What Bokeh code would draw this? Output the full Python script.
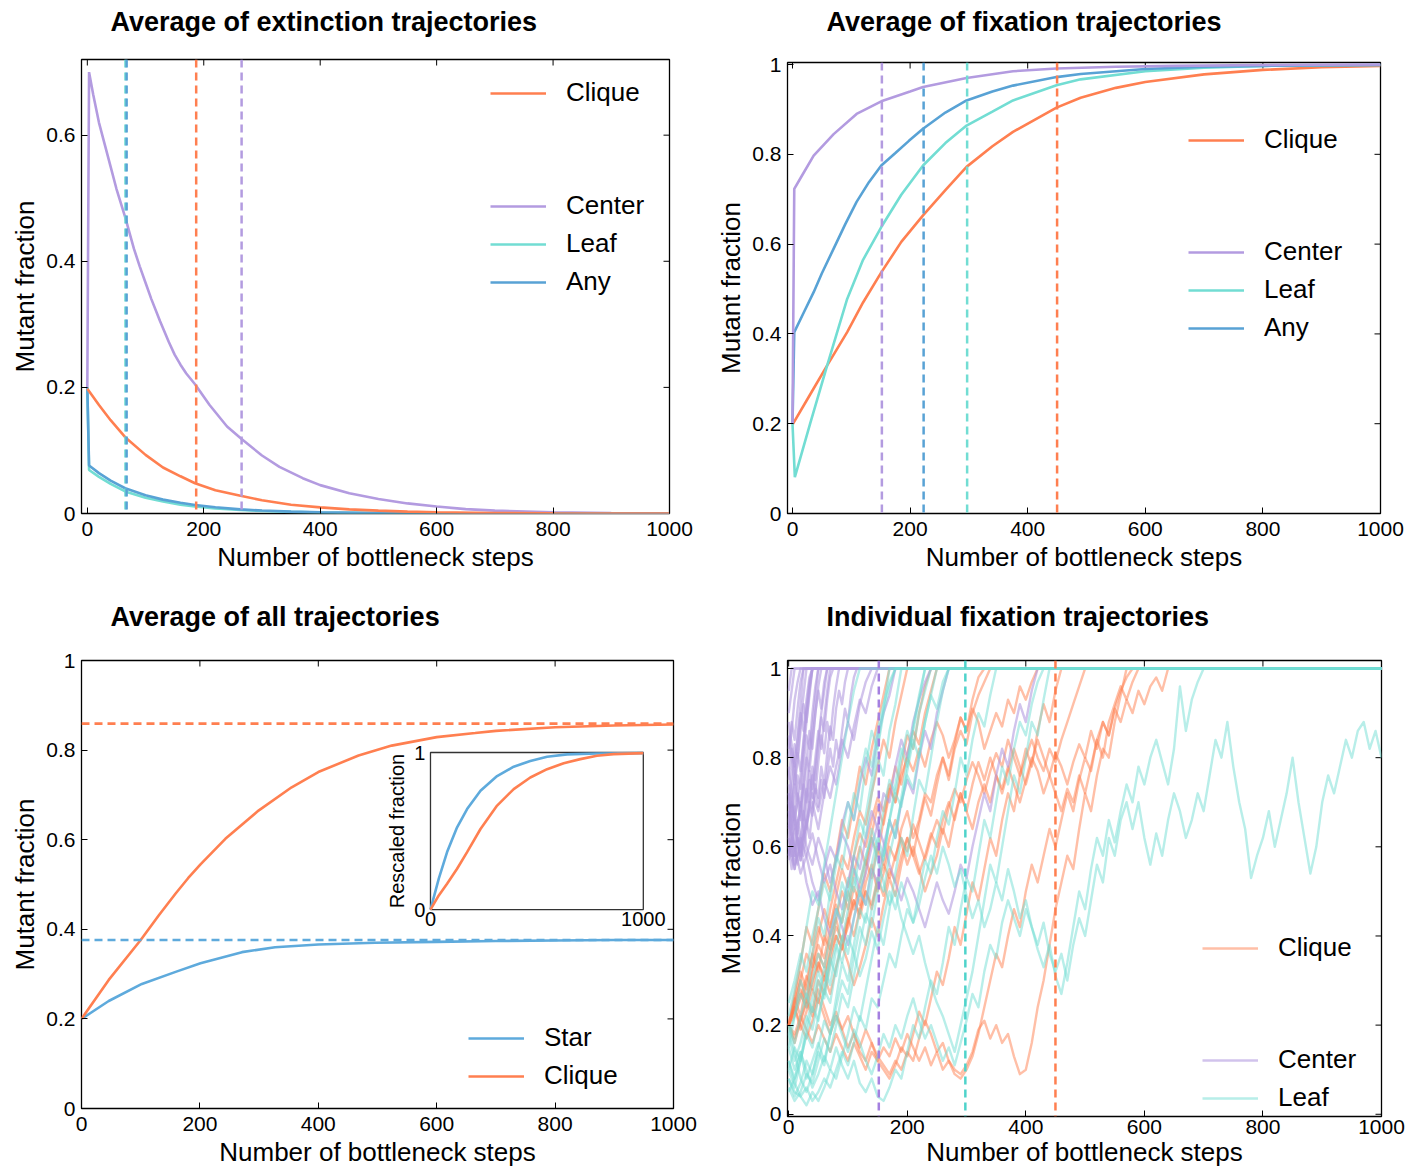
import math
from bokeh.plotting import figure
from bokeh.models import Range1d, FixedTicker, Span, Legend, LegendItem
from bokeh.layouts import column, row
from bokeh.embed import file_html
from bokeh.resources import INLINE
from bokeh.core.properties import value

FONT = "Liberation Sans"
ORANGE = "#FF7F50"
PURPLE = "#B39BE0"
CYAN = "#72DDD3"
BLUE = "#58A2D5"
STAR = "#5EAADC"

X_LABEL = "Number of bottleneck steps"
Y_LABEL = "Mutant fraction"
X_TICKS = [0, 200, 400, 600, 800, 1000]

# ---------------- Panel 1: average of extinction trajectories ----------------
EXT_TITLE = "Average of extinction trajectories"
EXT_Y_TICKS = [0, 0.2, 0.4, 0.6]
EXT_CLIQUE_X = [0, 20, 40, 65, 100, 130, 160, 185, 220, 263, 300, 350, 400, 450, 500, 550, 600, 700, 800, 1000]
EXT_CLIQUE_Y = [0.198, 0.172, 0.148, 0.121, 0.093, 0.073, 0.059, 0.048, 0.037, 0.028, 0.021, 0.014, 0.0097,
                0.0066, 0.0045, 0.003, 0.002, 0.0009, 0.0004, 0.0001]
EXT_CENTER_X = [0, 3, 10, 20, 30, 40, 50, 65, 80, 90, 100, 110, 125, 140, 150, 160, 170, 185, 210, 240, 265, 300,
                330, 370, 400, 450, 500, 550, 600, 650, 700, 800, 900, 1000]
EXT_CENTER_Y = [0.20, 0.70, 0.665, 0.62, 0.585, 0.55, 0.515, 0.47, 0.42, 0.392, 0.366, 0.34, 0.305, 0.272, 0.252,
                0.236, 0.222, 0.205, 0.172, 0.138, 0.118, 0.092, 0.074, 0.056, 0.045, 0.032, 0.023, 0.016, 0.011,
                0.007, 0.0045, 0.002, 0.0008, 0.0003]
EXT_X = [0, 3, 20, 40, 65, 100, 130, 160, 185, 220, 263, 300, 350, 400, 500, 600, 800, 1000]
EXT_LEAF_Y = [0.20, 0.069, 0.058, 0.047, 0.035, 0.025, 0.019, 0.014, 0.011, 0.008, 0.0055, 0.004, 0.0025,
              0.0016, 0.0006, 0.0002, 0.00004, 0.0]
EXT_ANY_Y = [0.20, 0.076, 0.064, 0.052, 0.040, 0.029, 0.022, 0.017, 0.0135, 0.0098, 0.0066, 0.0047, 0.003,
             0.0019, 0.0007, 0.0003, 0.00005, 0.0]
EXT_MEAN_NAMES = ["Leaf", "Any", "Clique", "Center"]
EXT_MEAN_STEPS = [65.5, 67.5, 187, 265]

# ---------------- Panel 2: average of fixation trajectories ----------------
FIX_TITLE = "Average of fixation trajectories"
FIX_Y_TICKS = [0, 0.2, 0.4, 0.6, 0.8, 1]
FIX_CENTER_X = [0, 3, 15, 36, 70, 109, 151, 200, 222, 296, 375, 449, 550, 650, 800, 1000]
FIX_CENTER_Y = [0.20, 0.723, 0.75, 0.797, 0.845, 0.89, 0.918, 0.940, 0.950, 0.970, 0.985, 0.991, 0.995, 0.997,
                0.999, 1.0]
FIX_ANY_X = [0, 3, 20, 36, 50, 70, 90, 109, 130, 151, 175, 198, 222, 260, 296, 340, 375, 449, 490, 600, 700, 800,
             1000]
FIX_ANY_Y = [0.20, 0.404, 0.45, 0.493, 0.535, 0.59, 0.645, 0.694, 0.738, 0.775, 0.803, 0.83, 0.857, 0.893, 0.92,
             0.94, 0.953, 0.972, 0.979, 0.99, 0.995, 0.997, 0.999]
FIX_LEAF_X = [0, 4, 30, 59, 93, 120, 151, 185, 222, 260, 296, 340, 375, 449, 490, 600, 700, 800, 1000]
FIX_LEAF_Y = [0.20, 0.081, 0.20, 0.33, 0.478, 0.565, 0.638, 0.71, 0.775, 0.825, 0.864, 0.895, 0.92, 0.954, 0.967,
              0.985, 0.993, 0.997, 0.999]
FIX_CLIQUE_X = [0, 30, 59, 93, 120, 151, 185, 222, 260, 296, 340, 375, 449, 490, 550, 600, 700, 800, 900, 1000]
FIX_CLIQUE_Y = [0.198, 0.265, 0.33, 0.404, 0.47, 0.537, 0.605, 0.664, 0.72, 0.772, 0.818, 0.85, 0.904, 0.926,
                0.948, 0.961, 0.978, 0.988, 0.994, 0.997]
FIX_MEAN_NAMES = ["Center", "Any", "Leaf", "Clique"]
FIX_MEAN_STEPS = [152, 223, 297, 450]

# ---------------- Panel 3: average of all trajectories ----------------
ALL_TITLE = "Average of all trajectories"
ALL_Y_TICKS = [0, 0.2, 0.4, 0.6, 0.8, 1]
ALL_STAR_X = [0, 46, 102, 159, 201, 271, 327, 400, 496, 600, 700, 800, 900, 1000]
ALL_STAR_Y = [0.20, 0.240, 0.278, 0.305, 0.324, 0.349, 0.360, 0.366, 0.370, 0.372, 0.374, 0.375, 0.376, 0.376]
ALL_CLIQUE_X = [0, 46, 100, 131, 159, 180, 201, 243, 299, 355, 400, 468, 524, 600, 665, 700, 800, 900, 1000]
ALL_CLIQUE_Y = [0.20, 0.287, 0.376, 0.432, 0.480, 0.514, 0.545, 0.602, 0.665, 0.717, 0.751, 0.788, 0.810, 0.829,
                0.838, 0.843, 0.851, 0.855, 0.857]
ALL_LIMIT_NAMES = ["Clique", "Star"]
ALL_LIMIT_VALUES = [0.859, 0.376]

INSET_LABEL = "Rescaled fraction"
INSET_X_RANGE = [0, 1000]
INSET_Y_RANGE = [0, 1]
INSET_STAR_X = [0, 39, 78, 125, 172, 235, 313, 391, 469, 548, 642, 783, 1000]
INSET_STAR_Y = [0, 0.197, 0.366, 0.524, 0.64, 0.756, 0.85, 0.91, 0.946, 0.973, 0.988, 0.994, 0.996]
INSET_CLIQUE_X = [0, 39, 78, 125, 172, 235, 313, 391, 469, 548, 626, 704, 782, 860, 1000]
INSET_CLIQUE_Y = [0, 0.09, 0.164, 0.26, 0.366, 0.513, 0.662, 0.767, 0.841, 0.894, 0.932, 0.958, 0.979, 0.99, 0.996]

# ---------------- Panel 4: individual fixation trajectories ----------------
IND_TITLE = "Individual fixation trajectories"
IND_END = 1000
CENTER_FAST_STEP = 5
CENTER_FAST = [
    [0.80, 0.86, 0.93, 0.97, 1.0],
    [0.70, 0.76, 0.83, 0.80, 0.88, 0.94, 1.0],
    [0.62, 0.58, 0.66, 0.72, 0.69, 0.78, 0.85, 0.82, 0.90, 0.96, 1.0],
    [0.85, 0.80, 0.74, 0.79, 0.86, 0.92, 0.88, 0.95, 1.0],
    [0.66, 0.60, 0.55, 0.62, 0.58, 0.67, 0.73, 0.70, 0.78, 0.75, 0.83, 0.89, 0.86, 0.93, 0.98, 1.0],
    [0.75, 0.82, 0.78, 0.72, 0.68, 0.74, 0.80, 0.77, 0.84, 0.90, 0.95, 0.91, 0.97, 1.0],
    [0.90, 0.95, 1.0],
    [0.58, 0.64, 0.70, 0.76, 0.73, 0.81, 0.88, 0.94, 1.0],
    [0.72, 0.65, 0.60, 0.56, 0.62, 0.68, 0.64, 0.70, 0.76, 0.72, 0.79, 0.85, 0.81, 0.88, 0.84, 0.91, 0.96, 1.0],
    [0.64, 0.70, 0.66, 0.61, 0.57, 0.63, 0.69, 0.75, 0.71, 0.78, 0.84, 0.90, 0.95, 1.0],
    [0.88, 0.83, 0.78, 0.84, 0.90, 0.86, 0.93, 0.98, 1.0],
    [0.60, 0.55, 0.60, 0.66, 0.62, 0.58, 0.64, 0.70, 0.67, 0.74, 0.71, 0.78, 0.74, 0.81, 0.87, 0.84, 0.91, 0.95,
     0.92, 0.97, 1.0],
    [0.68, 0.63, 0.58, 0.62, 0.57, 0.61, 0.66, 0.62, 0.68, 0.73, 0.69, 0.75, 0.71, 0.77, 0.82, 0.78, 0.84, 0.80,
     0.86, 0.91, 0.88, 0.94, 0.98, 1.0],
    [0.95, 1.0],
    [0.78, 0.72, 0.66, 0.70, 0.76, 0.83, 0.90, 0.96, 1.0],
    [0.66, 0.72, 0.78, 0.85, 0.92, 1.0],
    [0.57, 0.62, 0.58, 0.64, 0.70, 0.66, 0.73, 0.80, 0.87, 0.94, 1.0],
    [0.82, 0.88, 0.84, 0.91, 0.97, 1.0],
    [0.70, 0.64, 0.69, 0.63, 0.68, 0.74, 0.70, 0.77, 0.73, 0.80, 0.86, 0.82, 0.89, 0.95, 1.0],
    [0.62, 0.68, 0.74, 0.70, 0.66, 0.72, 0.79, 0.86, 0.82, 0.90, 0.96, 1.0],
    [0.74, 0.69, 0.75, 0.81, 0.77, 0.84, 0.91, 0.97, 1.0],
]
CENTER_SLOW_STEP = 10
CENTER_SLOW = [
    [0.60, 0.55, 0.62, 0.58, 0.52, 0.48, 0.55, 0.60, 0.57, 0.65, 0.70, 0.66, 0.74, 0.80, 0.76, 0.85, 0.90, 0.94, 1.0],
    [0.62, 0.56, 0.60, 0.52, 0.47, 0.50, 0.44, 0.40, 0.46, 0.42, 0.38, 0.44, 0.50, 0.47, 0.55, 0.52, 0.60, 0.66,
     0.62, 0.70, 0.75, 0.72, 0.80, 0.86, 0.82, 0.90, 0.95, 1.0],
    [0.70, 0.64, 0.68, 0.60, 0.56, 0.62, 0.58, 0.52, 0.57, 0.63, 0.60, 0.55, 0.50, 0.54, 0.60, 0.65, 0.61, 0.56,
     0.52, 0.48, 0.53, 0.50, 0.46, 0.42, 0.47, 0.52, 0.48, 0.45, 0.50, 0.56, 0.53, 0.60, 0.66, 0.72, 0.68, 0.76,
     0.82, 0.78, 0.86, 0.92, 0.88, 0.95, 1.0],
    [0.72, 0.66, 0.60, 0.65, 0.70, 0.64, 0.72, 0.78, 0.74, 0.82, 0.88, 0.84, 0.92, 0.97, 1.0],
    [0.65, 0.60, 0.54, 0.58, 0.63, 0.57, 0.52, 0.56, 0.50, 0.46, 0.52, 0.58, 0.55, 0.62, 0.68, 0.64, 0.72, 0.70,
     0.78, 0.84, 0.80, 0.88, 0.93, 0.97, 1.0],
    [0.58, 0.64, 0.59, 0.66, 0.72, 0.68, 0.75, 0.71, 0.78, 0.84, 0.80, 0.87, 0.93, 0.90, 0.96, 1.0],
]
LEAF_STEP = 10
LEAF_TRAJ = [
    [0.10, 0.06, 0.12, 0.18, 0.15, 0.22, 0.28, 0.25, 0.33, 0.40, 0.36, 0.44, 0.50, 0.47, 0.56, 0.62, 0.58, 0.66,
     0.72, 0.69, 0.77, 0.84, 0.80, 0.88, 0.94, 0.91, 0.97, 1.0],
    [0.20, 0.14, 0.08, 0.05, 0.09, 0.14, 0.11, 0.18, 0.24, 0.30, 0.27, 0.35, 0.42, 0.38, 0.46, 0.53, 0.50, 0.58,
     0.64, 0.70, 0.76, 0.73, 0.81, 0.88, 0.94, 1.0],
    [0.15, 0.22, 0.30, 0.26, 0.36, 0.44, 0.40, 0.50, 0.58, 0.55, 0.64, 0.72, 0.68, 0.78, 0.86, 0.82, 0.90, 0.96, 1.0],
    [0.08, 0.05, 0.04, 0.06, 0.03, 0.05, 0.08, 0.06, 0.10, 0.14, 0.11, 0.16, 0.22, 0.19, 0.26, 0.24, 0.30, 0.36,
     0.33, 0.40, 0.46, 0.43, 0.50, 0.57, 0.54, 0.62, 0.68, 0.65, 0.72, 0.80, 0.76, 0.84, 0.90, 0.87, 0.94, 1.0],
    [0.12, 0.08, 0.14, 0.10, 0.06, 0.09, 0.13, 0.10, 0.15, 0.11, 0.08, 0.12, 0.07, 0.05, 0.08, 0.04, 0.03, 0.06,
     0.10, 0.08, 0.14, 0.20, 0.17, 0.24, 0.30, 0.27, 0.34, 0.42, 0.38, 0.46, 0.53, 0.50, 0.58, 0.66, 0.62, 0.70,
     0.78, 0.74, 0.82, 0.88, 0.85, 0.92, 0.97, 1.0],
    [0.15, 0.10, 0.14, 0.08, 0.12, 0.16, 0.12, 0.18, 0.22, 0.18, 0.14, 0.19, 0.16, 0.12, 0.09, 0.13, 0.18, 0.15,
     0.20, 0.17, 0.22, 0.26, 0.21, 0.17, 0.20, 0.16, 0.12, 0.15, 0.11, 0.16, 0.21, 0.27, 0.24, 0.32, 0.38, 0.35,
     0.43, 0.48, 0.44, 0.40, 0.46, 0.42, 0.37, 0.33, 0.38, 0.31, 0.27, 0.34, 0.42, 0.50, 0.46, 0.55, 0.62, 0.58,
     0.66, 0.61, 0.68, 0.74, 0.70, 0.78, 0.74, 0.80, 0.84, 0.79, 0.74, 0.82, 0.96, 0.86, 0.93, 0.97, 1.0],
    [0.25, 0.30, 0.36, 0.32, 0.40, 0.46, 0.52, 0.48, 0.56, 0.63, 0.70, 0.66, 0.75, 0.82, 0.78, 0.86, 0.92, 0.97, 1.0],
    [0.05, 0.08, 0.12, 0.18, 0.24, 0.21, 0.28, 0.35, 0.31, 0.39, 0.46, 0.53, 0.49, 0.57, 0.64, 0.60, 0.68, 0.75,
     0.72, 0.80, 0.86, 0.82, 0.90, 0.95, 1.0],
    [0.10, 0.15, 0.12, 0.20, 0.26, 0.32, 0.28, 0.36, 0.44, 0.52, 0.48, 0.58, 0.66, 0.62, 0.72, 0.80, 0.76, 0.86,
     0.92, 1.0],
    [0.18, 0.22, 0.27, 0.24, 0.30, 0.36, 0.33, 0.40, 0.46, 0.43, 0.50, 0.55, 0.52, 0.58, 0.62, 0.57, 0.52, 0.47,
     0.50, 0.44, 0.40, 0.36, 0.40, 0.34, 0.29, 0.25, 0.22, 0.18, 0.14, 0.20, 0.26, 0.32, 0.40, 0.48, 0.56, 0.52,
     0.60, 0.68, 0.76, 0.72, 0.80, 0.88, 0.85, 0.93, 1.0],
    [0.12, 0.07, 0.04, 0.02, 0.05, 0.03, 0.06, 0.10, 0.08, 0.13, 0.18, 0.24, 0.21, 0.28, 0.35, 0.42, 0.38, 0.46,
     0.54, 0.62, 0.58, 0.67, 0.75, 0.72, 0.80, 0.88, 0.95, 1.0],
    [0.22, 0.28, 0.34, 0.42, 0.50, 0.47, 0.56, 0.64, 0.72, 0.80, 0.88, 0.95, 1.0],
    [0.08, 0.04, 0.07, 0.12, 0.09, 0.15, 0.21, 0.18, 0.26, 0.34, 0.30, 0.38, 0.46, 0.43, 0.52, 0.60, 0.57, 0.66,
     0.74, 0.82, 0.78, 0.86, 0.93, 1.0],
    [0.06, 0.03, 0.05, 0.09, 0.07, 0.12, 0.17, 0.14, 0.20, 0.27, 0.24, 0.31, 0.38, 0.45, 0.42, 0.50, 0.58, 0.66,
     0.62, 0.71, 0.79, 0.87, 0.94, 1.0],
    [0.18, 0.12, 0.16, 0.22, 0.19, 0.26, 0.33, 0.29, 0.37, 0.45, 0.53, 0.50, 0.59, 0.67, 0.75, 0.83, 0.91, 1.0],
]
LEAF_UNFIXED = [
    0.20, 0.16, 0.22, 0.27, 0.23, 0.30, 0.26, 0.33, 0.38, 0.34,
    0.40, 0.36, 0.31, 0.35, 0.41, 0.37, 0.44, 0.50, 0.46, 0.52,
    0.48, 0.43, 0.47, 0.53, 0.58, 0.54, 0.60, 0.56, 0.51, 0.55,
    0.49, 0.44, 0.48, 0.42, 0.46, 0.52, 0.48, 0.55, 0.50, 0.44,
    0.48, 0.42, 0.38, 0.43, 0.36, 0.32, 0.36, 0.30, 0.38, 0.44,
    0.40, 0.48, 0.56, 0.52, 0.62, 0.58, 0.66, 0.70, 0.64, 0.70,
    0.62, 0.56, 0.63, 0.58, 0.66, 0.72, 0.68, 0.62, 0.66, 0.72,
    0.68, 0.76, 0.84, 0.80, 0.88, 0.78, 0.70, 0.64, 0.53, 0.58,
    0.62, 0.68, 0.60, 0.66, 0.72, 0.80, 0.70, 0.62, 0.54, 0.60,
    0.70, 0.76, 0.72, 0.78, 0.84, 0.80, 0.86, 0.88, 0.82, 0.86,
    0.80,
]
CLIQUE_STEP = 10
CLIQUE_TRAJ = [
    [0.20, 0.24, 0.20, 0.17, 0.21, 0.26, 0.22, 0.18, 0.22, 0.19, 0.15, 0.18, 0.14, 0.12, 0.16, 0.13, 0.11, 0.09,
     0.12, 0.10, 0.14, 0.12, 0.17, 0.21, 0.18, 0.14, 0.16, 0.12, 0.10, 0.09, 0.11, 0.14, 0.19, 0.21, 0.17, 0.20,
     0.16, 0.18, 0.13, 0.09, 0.10, 0.16, 0.24, 0.30, 0.38, 0.46, 0.52, 0.58, 0.55, 0.64, 0.72, 0.68, 0.76, 0.82,
     0.80, 0.88, 0.94, 1.0],
    [0.20, 0.26, 0.32, 0.28, 0.36, 0.42, 0.38, 0.46, 0.52, 0.58, 0.55, 0.62, 0.68, 0.65, 0.72, 0.78, 0.84, 0.80,
     0.88, 0.94, 1.0],
    [0.20, 0.24, 0.28, 0.25, 0.32, 0.36, 0.33, 0.40, 0.44, 0.38, 0.42, 0.48, 0.45, 0.52, 0.56, 0.50, 0.54, 0.60,
     0.57, 0.64, 0.68, 0.62, 0.66, 0.72, 0.70, 0.76, 0.80, 0.75, 0.82, 0.86, 0.83, 0.90, 0.94, 0.97, 1.0],
    [0.20, 0.18, 0.22, 0.19, 0.16, 0.20, 0.17, 0.14, 0.18, 0.15, 0.12, 0.16, 0.13, 0.10, 0.14, 0.12, 0.10, 0.08,
     0.11, 0.15, 0.13, 0.18, 0.23, 0.20, 0.26, 0.32, 0.29, 0.35, 0.42, 0.38, 0.45, 0.52, 0.48, 0.55, 0.62, 0.58,
     0.66, 0.72, 0.68, 0.76, 0.82, 0.78, 0.86, 0.92, 0.88, 0.95, 1.0],
    [0.20, 0.23, 0.27, 0.24, 0.30, 0.34, 0.31, 0.37, 0.42, 0.39, 0.44, 0.40, 0.46, 0.50, 0.47, 0.53, 0.49, 0.55,
     0.52, 0.58, 0.62, 0.58, 0.54, 0.58, 0.63, 0.60, 0.66, 0.70, 0.66, 0.72, 0.68, 0.64, 0.70, 0.74, 0.70, 0.76,
     0.73, 0.78, 0.74, 0.70, 0.75, 0.80, 0.77, 0.72, 0.76, 0.81, 0.78, 0.74, 0.79, 0.83, 0.80, 0.86, 0.82, 0.88,
     0.85, 0.91, 0.88, 0.93, 0.90, 0.95, 0.92, 0.96, 0.98, 0.95, 1.0],
    [0.20, 0.25, 0.30, 0.26, 0.33, 0.38, 0.35, 0.42, 0.47, 0.43, 0.50, 0.46, 0.52, 0.57, 0.53, 0.60, 0.56, 0.62,
     0.66, 0.61, 0.56, 0.60, 0.55, 0.50, 0.54, 0.58, 0.64, 0.60, 0.67, 0.72, 0.68, 0.74, 0.79, 0.75, 0.80, 0.76,
     0.72, 0.77, 0.82, 0.78, 0.74, 0.79, 0.84, 0.80, 0.76, 0.72, 0.68, 0.73, 0.70, 0.76, 0.72, 0.78, 0.84, 0.80,
     0.88, 0.92, 0.96, 0.93, 0.97, 1.0],
    [0.20, 0.17, 0.21, 0.25, 0.22, 0.28, 0.24, 0.20, 0.23, 0.19, 0.22, 0.18, 0.15, 0.19, 0.16, 0.12, 0.15, 0.13,
     0.17, 0.14, 0.18, 0.15, 0.12, 0.15, 0.11, 0.14, 0.10, 0.12, 0.09, 0.08, 0.10, 0.13, 0.18, 0.24, 0.30, 0.36,
     0.33, 0.40, 0.46, 0.42, 0.50, 0.56, 0.52, 0.58, 0.64, 0.60, 0.66, 0.72, 0.68, 0.75, 0.80, 0.77, 0.84, 0.88,
     0.85, 0.91, 0.95, 0.98, 1.0],
    [0.20, 0.27, 0.34, 0.42, 0.38, 0.46, 0.54, 0.50, 0.58, 0.66, 0.62, 0.70, 0.78, 0.74, 0.82, 0.88, 0.94, 1.0],
    [0.20, 0.24, 0.30, 0.36, 0.33, 0.40, 0.46, 0.42, 0.49, 0.55, 0.51, 0.58, 0.63, 0.60, 0.66, 0.71, 0.68, 0.74,
     0.70, 0.76, 0.80, 0.77, 0.82, 0.78, 0.84, 0.88, 0.85, 0.80, 0.84, 0.89, 0.86, 0.91, 0.88, 0.82, 0.86, 0.90,
     0.87, 0.93, 0.90, 0.96, 0.93, 0.97, 1.0],
    [0.20, 0.26, 0.22, 0.30, 0.36, 0.32, 0.40, 0.37, 0.44, 0.50, 0.46, 0.54, 0.60, 0.56, 0.63, 0.69, 0.65, 0.72,
     0.78, 0.74, 0.81, 0.86, 0.83, 0.90, 0.95, 1.0],
    [0.20, 0.22, 0.26, 0.31, 0.28, 0.34, 0.30, 0.36, 0.40, 0.37, 0.43, 0.48, 0.44, 0.50, 0.46, 0.52, 0.56, 0.53,
     0.58, 0.62, 0.59, 0.65, 0.61, 0.57, 0.62, 0.66, 0.63, 0.69, 0.73, 0.70, 0.75, 0.79, 0.76, 0.72, 0.77, 0.81,
     0.78, 0.84, 0.80, 0.76, 0.80, 0.84, 0.80, 0.77, 0.82, 0.79, 0.84, 0.88, 0.92, 0.96, 1.0],
    [0.20, 0.16, 0.21, 0.26, 0.23, 0.30, 0.27, 0.34, 0.40, 0.37, 0.44, 0.51, 0.47, 0.55, 0.62, 0.58, 0.66, 0.73,
     0.70, 0.78, 0.85, 0.82, 0.90, 0.96, 1.0],
    [0.20, 0.24, 0.19, 0.23, 0.28, 0.25, 0.31, 0.27, 0.33, 0.38, 0.34, 0.29, 0.33, 0.38, 0.44, 0.40, 0.47, 0.53,
     0.49, 0.56, 0.62, 0.58, 0.65, 0.71, 0.67, 0.74, 0.80, 0.76, 0.83, 0.89, 0.86, 0.93, 0.98, 1.0],
]
IND_MEAN_NAMES = ["Center", "Leaf", "Clique"]
IND_MEAN_STEPS = [152, 298, 450]


# ---------------- helpers ----------------
def style_axis(ax, ticks, xaxis, label_standoff, title_standoff):
    ax.ticker = FixedTicker(ticks=ticks)
    ax.major_tick_in = 6
    ax.major_tick_out = 0
    ax.minor_tick_in = 0
    ax.minor_tick_out = 0
    ax.minor_tick_line_color = None
    ax.major_tick_line_color = "black"
    ax.major_tick_line_width = 1
    ax.axis_line_color = None
    ax.major_label_text_font = FONT
    ax.major_label_text_font_size = "21px"
    ax.major_label_text_color = "black"
    ax.axis_label_text_font = FONT
    ax.axis_label_text_font_size = "26px"
    ax.axis_label_text_font_style = "normal"
    ax.axis_label_text_color = "black"
    ax.major_label_standoff = label_standoff
    ax.axis_label_standoff = title_standoff
    if not xaxis:
        ax.major_label_overrides = {0: "0", 1: "1"}


def title_fig(width, height, text, dx):
    # a thin strip above a panel that carries its bold title (its frame aligns with the panel's frame)
    t = figure(width=width, height=height, x_range=Range1d(0, 1), y_range=Range1d(0, 1),
               output_backend="svg", toolbar_location=None, x_axis_type=None, y_axis_type=None,
               min_border=0)
    t.outline_line_color = None
    t.grid.visible = False
    t.background_fill_color = "white"
    t.border_fill_color = "white"
    t.text(x=[0], y=[0.5], text=[text], x_offset=dx, text_font=value(FONT), text_font_size="27px",
           text_font_style=value("bold"), text_color="black", text_align="left", text_baseline="middle")
    return t


def make_fig(width, height, xr, yr, borders, yticks, xstand=(8, 3)):
    p = figure(width=width, height=height, x_range=Range1d(*xr), y_range=Range1d(*yr),
               output_backend="svg", toolbar_location=None,
               min_border_left=borders[0], min_border_right=borders[1],
               min_border_top=borders[2], min_border_bottom=borders[3])
    p.grid.visible = False
    p.outline_line_color = "black"
    p.outline_line_width = 1.3
    p.background_fill_color = "white"
    p.border_fill_color = "white"
    style_axis(p.xaxis[0], X_TICKS, True, xstand[0], xstand[1])
    style_axis(p.yaxis[0], yticks, False, 6, 3)
    p.xaxis[0].axis_label = X_LABEL
    p.yaxis[0].axis_label = Y_LABEL
    # mirrored inward ticks on the top and right edges of the frame
    p.ray(x=X_TICKS, y=[yr[1]] * len(X_TICKS), length=6, length_units="screen", angle=-math.pi / 2,
          line_color="black", line_width=1)
    p.ray(x=[xr[1]] * len(yticks), y=yticks, length=6, length_units="screen", angle=math.pi,
          line_color="black", line_width=1)
    return p


def add_legend(p, entries, loc):
    items = [LegendItem(label=label, renderers=[rend]) for label, rend in entries]
    lg = Legend(items=items, location=loc, orientation="vertical")
    lg.padding = 0
    lg.margin = 0
    lg.spacing = 7
    lg.glyph_width = 56
    lg.glyph_height = 26
    lg.label_height = 26
    lg.label_standoff = 20
    lg.label_text_font = FONT
    lg.label_text_font_size = "26px"
    lg.label_text_color = "black"
    lg.border_line_alpha = 0
    lg.background_fill_alpha = 0
    p.add_layout(lg)


def vspans(p, steps, colors, width=2.5):
    for s, c in zip(steps, colors):
        p.add_layout(Span(location=s, dimension="height", line_color=c, line_width=width, line_dash="8 5"))


LW = 2.6
COLORS = {"Leaf": CYAN, "Any": BLUE, "Clique": ORANGE, "Center": PURPLE, "Star": STAR}

TOP_TITLE_H = 42
BOT_TITLE_H = 62

# ---------------- Panel 1 ----------------
t1 = title_fig(710, TOP_TITLE_H, EXT_TITLE, 29)
p1 = make_fig(710, 585 - TOP_TITLE_H, (-10, 1000), (0, 0.72), (81, 41, 59 - TOP_TITLE_H, 72), EXT_Y_TICKS)
r_cen = p1.line(EXT_CENTER_X, EXT_CENTER_Y, line_color=PURPLE, line_width=LW)
r_leaf = p1.line(EXT_X, EXT_LEAF_Y, line_color=CYAN, line_width=LW)
r_any = p1.line(EXT_X, EXT_ANY_Y, line_color=BLUE, line_width=LW)
r_cli = p1.line(EXT_CLIQUE_X, EXT_CLIQUE_Y, line_color=ORANGE, line_width=LW)
vspans(p1, EXT_MEAN_STEPS, [COLORS[n] for n in EXT_MEAN_NAMES])
add_legend(p1, [("Clique", r_cli)], (409, 405))
add_legend(p1, [("Center", r_cen), ("Leaf", r_leaf), ("Any", r_any)], (409, 216))

# ---------------- Panel 2 ----------------
t2 = title_fig(713, TOP_TITLE_H, FIX_TITLE, 39)
p2 = make_fig(713, 585 - TOP_TITLE_H, (-8.5, 1000), (0, 1.0045), (77, 43, 62 - TOP_TITLE_H, 72), FIX_Y_TICKS)
q_cli = p2.line(FIX_CLIQUE_X, FIX_CLIQUE_Y, line_color=ORANGE, line_width=LW)
q_leaf = p2.line(FIX_LEAF_X, FIX_LEAF_Y, line_color=CYAN, line_width=LW)
q_any = p2.line(FIX_ANY_X, FIX_ANY_Y, line_color=BLUE, line_width=LW)
q_cen = p2.line(FIX_CENTER_X, FIX_CENTER_Y, line_color=PURPLE, line_width=LW)
vspans(p2, FIX_MEAN_STEPS, [COLORS[n] for n in FIX_MEAN_NAMES])
add_legend(p2, [("Clique", q_cli)], (401, 358))
add_legend(p2, [("Center", q_cen), ("Leaf", q_leaf), ("Any", q_any)], (401, 170))

# ---------------- Panel 3 ----------------
t3 = title_fig(710, BOT_TITLE_H, ALL_TITLE, 29)
p3 = make_fig(710, 589 - BOT_TITLE_H, (0, 1000), (0, 1), (81, 37, 75 - BOT_TITLE_H, 66), ALL_Y_TICKS)
s_star = p3.line(ALL_STAR_X, ALL_STAR_Y, line_color=STAR, line_width=LW)
s_cli = p3.line(ALL_CLIQUE_X, ALL_CLIQUE_Y, line_color=ORANGE, line_width=LW)
for n, v in zip(ALL_LIMIT_NAMES, ALL_LIMIT_VALUES):
    p3.add_layout(Span(location=v, dimension="width", line_color=COLORS[n], line_width=LW, line_dash="8 5"))
add_legend(p3, [("Star", s_star), ("Clique", s_cli)], (387, 17))

inset = p3.subplot(x_source=Range1d(*INSET_X_RANGE), y_source=Range1d(*INSET_Y_RANGE),
                   x_target=Range1d(589.5, 949), y_target=Range1d(0.444, 0.7946))
inset.quad(left=[INSET_X_RANGE[0]], right=[INSET_X_RANGE[1]], bottom=[INSET_Y_RANGE[0]], top=[INSET_Y_RANGE[1]],
           fill_color="white", line_color="#333333", line_width=1.3)
inset.line(INSET_STAR_X, INSET_STAR_Y, line_color=STAR, line_width=LW)
inset.line(INSET_CLIQUE_X, INSET_CLIQUE_Y, line_color=ORANGE, line_width=LW)
inset.text(x=[INSET_X_RANGE[0], INSET_X_RANGE[0]], y=[INSET_Y_RANGE[0], INSET_Y_RANGE[1]],
           text=[str(INSET_Y_RANGE[0]), str(INSET_Y_RANGE[1])], text_font=value(FONT), text_font_size="20px",
           text_align="right", text_baseline="middle", x_offset=-5, text_color="black")
inset.text(x=[INSET_X_RANGE[0], INSET_X_RANGE[1]], y=[INSET_Y_RANGE[0], INSET_Y_RANGE[0]],
           text=[str(INSET_X_RANGE[0]), str(INSET_X_RANGE[1])], text_font=value(FONT), text_font_size="20px",
           text_align="center", text_baseline="top", y_offset=2, text_color="black")
inset.text(x=[INSET_X_RANGE[0]], y=[(INSET_Y_RANGE[0] + INSET_Y_RANGE[1]) / 2], text=[INSET_LABEL],
           text_font=value(FONT), text_font_size="20px", text_align="center", text_baseline="middle",
           angle=math.pi / 2, x_offset=-33, text_color="black")

# ---------------- Panel 4 ----------------
t4 = title_fig(713, BOT_TITLE_H, IND_TITLE, 39)
p4 = make_fig(713, 589 - BOT_TITLE_H, (-2, 1000), (-0.005, 1.018), (77, 42, 75 - BOT_TITLE_H, 58), ALL_Y_TICKS,
              xstand=(3, 0))


def build(trajs, step, extend=True):
    xs, ys = [], []
    for t in trajs:
        x = [i * step for i in range(len(t))]
        y = list(t)
        if extend and x[-1] < IND_END:
            x.append(IND_END)
            y.append(t[-1])
        xs.append(x)
        ys.append(y)
    return xs, ys


cfx, cfy = build(CENTER_FAST, CENTER_FAST_STEP)
csx, csy = build(CENTER_SLOW, CENTER_SLOW_STEP)
lx, ly = build(LEAF_TRAJ, LEAF_STEP)
ux, uy = build([LEAF_UNFIXED], LEAF_STEP, extend=False)
ox, oy = build(CLIQUE_TRAJ, CLIQUE_STEP)
TA = 0.5
TW = 2.4
t_cli = p4.multi_line(ox, oy, line_color=ORANGE, line_alpha=TA, line_width=TW, line_join="round")
t_cen = p4.multi_line(cfx + csx, cfy + csy, line_color=PURPLE, line_alpha=0.6, line_width=TW, line_join="round")
t_leaf = p4.multi_line(lx + ux, ly + uy, line_color=CYAN, line_alpha=TA, line_width=TW, line_join="round")
IND_COLORS = {"Center": "#A580E0", "Leaf": "#4FD3CB", "Clique": ORANGE}
vspans(p4, IND_MEAN_STEPS, [IND_COLORS[n] for n in IND_MEAN_NAMES])
add_legend(p4, [("Clique", t_cli)], (415, 153))
add_legend(p4, [("Center", t_cen), ("Leaf", t_leaf)], (415, 3))

layout = column(row(column(t1, p1), column(t2, p2)), row(column(t3, p3), column(t4, p4)))
open("out.html", "w").write(file_html(layout, INLINE))
